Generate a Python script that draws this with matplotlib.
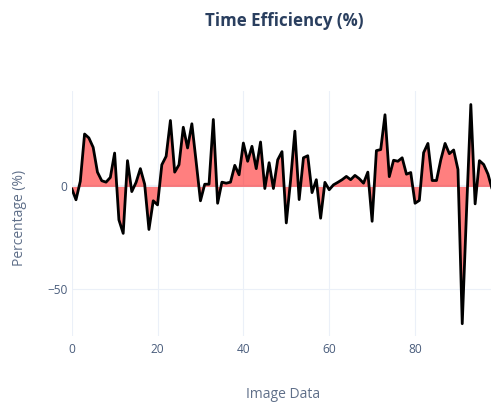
import numpy as np
import matplotlib
matplotlib.use("Agg")
import matplotlib.pyplot as plt

# Time efficiency per image (%)
efficiency = [
    -1, -6.5, 2.5, 25.6, 23.7, 19.1, 7, 2.8, 2.1, 4.4,
    16.3, -16.3, -22.9, 12.6, -2.5, 2, 8.7, 1.1, -21, -7,
    -9, 10.6, 14.7, 32.2, 7, 10.6, 28.9, 18.8, 30.6, 12,
    -7, 1.1, 1.1, 32.7, -8.2, 2.1, 1.6, 2.1, 10.3, 5.7,
    21.2, 12.3, 19.6, 8.7, 21.7, -1, 11.6, -1, 13, 17,
    -17.8, 3, 27, -6.4, 14, 15, -3, 3.3, -15.5, 2,
    -1.6, 0.8, 2, 3.3, 4.9, 3.3, 5.4, 3.8, 1.6, 7,
    -17, 17.5, 18, 35, 4.8, 12.8, 12.3, 14, 6, 6.8,
    -8.2, -6.8, 16.5, 21, 2.9, 2.9, 13, 21, 16, 17.8,
    8.3, -67, -12, 40, -8.5, 12.6, 10.7, 6, -1.6,
]
image_idx = np.arange(len(efficiency))
x_ticks = [0, 20, 40, 60, 80]
y_ticks = [-50, 0]

plt.rcParams['font.family'] = ['Open Sans', 'DejaVu Sans']

W, H = 491, 407
fig = plt.figure(figsize=(W / 100, H / 100), dpi=100)
left, right, top, bottom = 71.7, 491, 91, 336
ax = fig.add_axes([left / W, 1 - bottom / H, (right - left) / W, (bottom - top) / H])

grid_col = '#EBF0F8'
ax.fill_between(image_idx, efficiency, 0, color='#ff0000', alpha=0.5, lw=0, zorder=2)
ax.plot(image_idx, efficiency, color='black', lw=2.0, zorder=3,
        solid_joinstyle='round', solid_capstyle='round')

ax.set_xlim(0, 97.7)
ax.set_ylim(-73, 46.6)
ax.set_xticks(x_ticks)
ax.set_yticks(y_ticks)
ax.grid(True, color=grid_col, lw=0.8)
ax.set_axisbelow(True)
ax.axhline(0, color=grid_col, lw=1.6, zorder=1)

for s in ax.spines.values():
    s.set_visible(False)
ax.tick_params(length=0, labelsize=8.6, labelcolor='#4a5d7c')
ax.tick_params(axis='x', pad=5)
ax.tick_params(axis='y', pad=3)

fig.text(284 / W, 1 - 21 / H, 'Time Efficiency (%)', ha='center', va='center',
         fontsize=12.2, fontweight='bold', color='#2a3f5f')
fig.text(283 / W, 1 - 395 / H, 'Image Data', ha='center', va='center',
         fontsize=10, color='#5f6f89')
fig.text(20 / W, 1 - 218 / H, 'Percentage (%)', ha='center', va='center',
         rotation=90, fontsize=10, color='#5f6f89')

fig.savefig('out.png', dpi=100, facecolor='white')
